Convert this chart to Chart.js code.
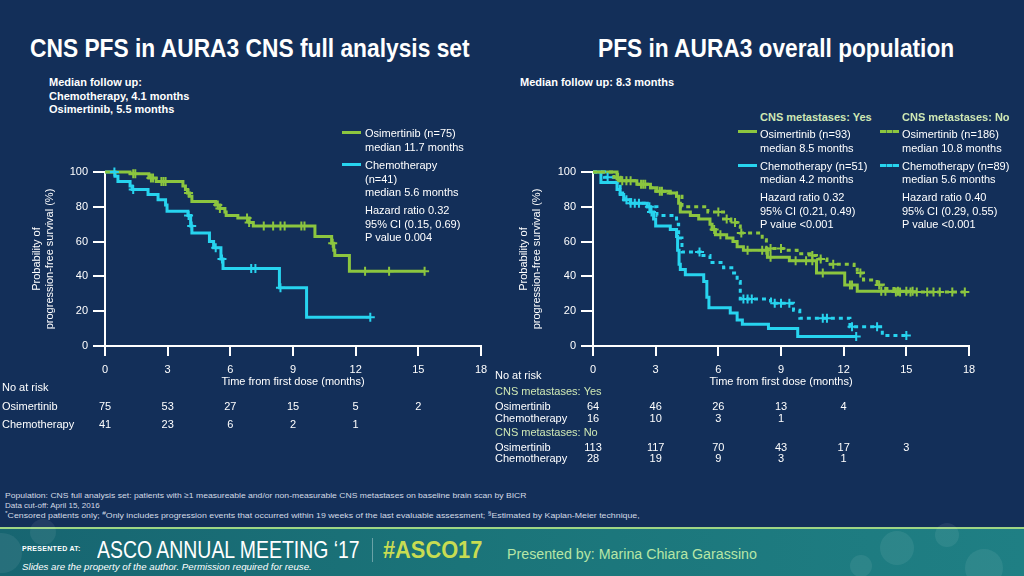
<!DOCTYPE html>
<html>
<head>
<meta charset="utf-8">
<script src="https://cdn.jsdelivr.net/npm/chart.js@4.4.1/dist/chart.umd.min.js"></script>
<style>
  body { margin:0; width:1024px; height:576px; overflow:hidden; background:#132f59; position:relative;
         font-family:"Liberation Sans", Arial, sans-serif; color:#fff; }
  .t { position:absolute; white-space:nowrap; font-size:11px; line-height:14px; transform-origin:left center; }
  .b { font-weight:bold; }
  .pale { color:#cfe8b4; }
  .ttl { position:absolute; white-space:nowrap; font-size:25px; font-weight:bold; line-height:28px; transform-origin:left center; }
  .sw { position:absolute; height:3px; width:19px; }
  .dash { height:0; border-top:3px dashed; width:19px; }
  canvas { position:absolute; }
  #foot { position:absolute; left:0; top:527px; width:1024px; height:49px;
          background:linear-gradient(90deg,#176571 0%,#1b7479 45%,#1f7f84 100%); border-top:2px solid #9fd684; }
  .bub { position:absolute; border-radius:50%; background:rgba(255,255,255,0.07); }
  .fn { position:absolute; left:5px; white-space:nowrap; font-size:8px; line-height:10px; color:#d4dbe6; transform-origin:left center; }
  .fn sup { font-size:6px; vertical-align:3px; line-height:0; }
</style>
</head>
<body>
<div class="ttl" id="title1" style="left:30px;top:34px">CNS PFS in AURA3 CNS full analysis set</div>
<div class="ttl" id="title2" style="left:598px;top:34px">PFS in AURA3 overall population</div>

<div class="t b" style="left:49px;top:75px">Median follow up:</div>
<div class="t b" style="left:49px;top:89px">Chemotherapy, 4.1 months</div>
<div class="t b" style="left:49px;top:102px">Osimertinib, 5.5 months</div>
<div class="t b" style="left:520px;top:75px">Median follow up: 8.3 months</div>

<canvas id="cLeft" width="500" height="293" style="left:0;top:150px"></canvas>
<canvas id="cRight" width="534" height="320" style="left:490px;top:150px"></canvas>

<div id="legends"></div>

<div class="fn" id="fn1" style="top:491px">Population: CNS full analysis set: patients with ≥1 measureable and/or non-measurable CNS metastases on baseline brain scan by BICR</div>
<div class="fn" style="top:501px">Data cut-off: April 15, 2016</div>
<div class="fn" id="fn3" style="top:511px"><sup>*</sup>Censored patients only; <sup>#</sup>Only includes progression events that occurred within 19 weeks of the last evaluable assessment; <sup>§</sup>Estimated by Kaplan-Meier technique,</div>

<div id="foot">
  <div class="bub" style="left:-18px;top:4px;width:40px;height:40px"></div>
  <div class="bub" style="left:30px;top:-10px;width:26px;height:26px"></div>
  <div class="bub" style="left:880px;top:2px;width:34px;height:34px"></div>
  <div class="bub" style="left:935px;top:-6px;width:24px;height:24px"></div>
  <div class="bub" style="left:965px;top:20px;width:38px;height:38px"></div>
  <div class="bub" style="left:850px;top:26px;width:22px;height:22px"></div>
  <div style="position:absolute;left:22px;top:16px;font-size:7px;font-weight:bold;letter-spacing:0.3px;white-space:nowrap">PRESENTED AT:</div>
  <div id="asco" style="position:absolute;left:97px;top:7px;font-size:24px;line-height:28px;white-space:nowrap;transform-origin:left center">ASCO ANNUAL MEETING ‘17</div>
  <div style="position:absolute;left:372px;top:9px;width:1px;height:24px;background:rgba(255,255,255,0.35)"></div>
  <div id="hash" style="position:absolute;left:383px;top:7px;font-size:24px;line-height:28px;font-weight:bold;color:#c8dc52;white-space:nowrap;transform-origin:left center">#ASCO17</div>
  <div id="pres" style="position:absolute;left:507px;top:17px;font-size:14px;line-height:16px;color:#b7e6a6;white-space:nowrap;transform-origin:left center">Presented by: Marina Chiara Garassino</div>
  <div id="slides" style="position:absolute;left:22px;top:33px;font-size:9px;font-style:italic;white-space:nowrap;transform-origin:left center">Slides are the property of the author. Permission required for reuse.</div>
</div>

<script>
const F = '"Liberation Sans", Arial, sans-serif';
const GREEN = '#8cc63f';
const CYAN = '#27d4ef';

// x axis / at-risk months
const monthTicks = [0, 3, 6, 9, 12, 15, 18];
const riskMonths = [0, 3, 6, 9, 12, 15];

// ---- left chart: CNS PFS, CNS full analysis set ----
const osiT = [0, 1.2, 2.1, 2.45, 3.73, 3.85, 3.95, 4.05, 4.16, 5.3, 5.5, 5.74, 5.8, 6.36, 6.9, 7.1, 10.05, 10.85, 10.95, 11.0, 11.7, 15.3];
const osiS = [100, 99, 96.5, 94.5, 92, 90, 88, 86, 83, 81, 79, 77, 75, 73.5, 71, 69, 63, 59, 55, 52, 43, 43];
const osiCens = [1.35, 1.45, 2.2, 2.3, 2.7, 2.8, 2.9, 4.0, 5.4, 5.5, 6.8, 6.9, 7.6, 8.05, 8.4, 8.6, 9.4, 9.55, 10.9, 12.45, 13.6, 15.3];

const chemoT = [0, 0.48, 0.62, 1.2, 1.3, 2.06, 2.54, 2.9, 2.97, 3.97, 4.1, 4.16, 5.0, 5.2, 5.55, 5.65, 8.35, 9.65, 12.7];
const chemoS = [100, 97.5, 94.5, 92, 90, 87, 84, 81, 77.5, 75, 69, 65, 60, 56.5, 50, 44.5, 33.5, 16.5, 16.5];
const chemoCens = [0.45, 1.35, 4.0, 4.15, 5.3, 5.6, 7.0, 7.2, 8.4, 12.7];

const leftRiskOsi = [75, 53, 27, 15, 5, 2];
const leftRiskChemo = [41, 23, 6, 2, 1];

// ---- right chart: PFS overall population ----
const osiYesT = [0, 1.15, 1.3, 2.1, 2.75, 3.06, 3.7, 4.0, 4.1, 4.18, 4.66, 5.06, 5.6, 5.7, 5.86, 6.4, 6.7, 6.9, 7.2, 8.35, 9.4, 10.7, 12.05, 12.65, 15.3];
const osiYesS = [100, 96, 95, 93, 91, 89, 88, 86, 82, 77, 75, 73, 70, 67, 64, 62, 60, 57, 55, 51, 49, 42, 35, 31.5, 31.5];
const osiYesCens = [1.4, 1.6, 2.3, 2.5, 3.3, 5.8, 6.1, 7.4, 8.1, 8.3, 8.5, 9.7, 10.2, 10.5, 11.0, 12.3, 12.4, 13.8, 14.0, 14.6, 15.0, 15.3];

const osiNoT = [0, 1.0, 1.3, 2.0, 2.6, 3.0, 3.6, 4.0, 4.26, 5.5, 6.25, 6.6, 6.9, 7.05, 8.1, 8.3, 9.1, 9.77, 10.4, 10.7, 11.2, 12.5, 12.65, 12.95, 13.6, 13.9, 14.4, 17.8];
const osiNoS = [100, 97, 95, 93, 91, 89, 88, 86, 80, 77, 73, 71, 69, 65, 61, 56, 55, 53, 52, 50, 47, 45, 42, 38, 35, 33, 31, 31];
const osiNoCens = [1.2, 1.8, 2.4, 3.2, 6.0, 6.4, 6.8, 7.1, 8.5, 9.0, 10.5, 10.9, 11.5, 12.8, 13.7, 14.5, 14.7, 15.2, 15.5, 16.0, 16.3, 16.6, 17.2, 17.8];

const chemoYesT = [0, 0.38, 1.15, 1.3, 1.47, 1.8, 2.6, 2.75, 2.9, 3.0, 3.7, 4.0, 4.05, 4.12, 4.18, 4.42, 5.3, 5.45, 5.55, 6.57, 6.9, 7.15, 8.4, 9.8, 12.6];
const chemoYesS = [100, 94, 90, 87, 84, 82, 80, 77, 73, 69, 67, 63, 55, 47, 44, 41, 37, 28, 22, 19, 15, 12.5, 10, 5.5, 5.5];
const chemoYesCens = [1.6, 1.8, 2.0, 2.2, 2.8, 12.6];

const chemoNoT = [0, 0.55, 1.1, 1.3, 1.5, 1.8, 2.6, 3.06, 4.0, 4.1, 4.26, 5.14, 5.6, 6.25, 6.73, 6.9, 7.05, 8.5, 9.6, 9.9, 12.3, 13.85, 15.0];
const chemoNoS = [100, 97, 94, 88, 84, 82, 80, 75, 70, 62, 54, 52, 48, 45, 42, 37, 27, 24.5, 20.5, 16, 11, 6, 6];
const chemoNoCens = [0.7, 2.7, 5.1, 7.2, 7.4, 7.6, 8.7, 9.0, 9.4, 11.0, 11.2, 12.4, 13.6, 15.0];

const rightRiskOsiYes = [64, 46, 26, 13, 4];
const rightRiskChemoYes = [16, 10, 3, 1];
const rightRiskOsiNo = [113, 117, 70, 43, 17, 3];
const rightRiskChemoNo = [28, 19, 9, 3, 1];

// legend texts
const leftLegend = [
  ['Osimertinib (n=75)', 'median 11.7 months'],
  ['Chemotherapy', '(n=41)', 'median 5.6 months'],
  ['Hazard ratio 0.32', '95% CI (0.15, 0.69)', 'P value 0.004']
];
const rightLegendYes = [
  ['Osimertinib (n=93)', 'median 8.5 months'],
  ['Chemotherapy (n=51)', 'median 4.2 months'],
  ['Hazard ratio 0.32', '95% CI (0.21, 0.49)', 'P value <0.001']
];
const rightLegendNo = [
  ['Osimertinib (n=186)', 'median 10.8 months'],
  ['Chemotherapy (n=89)', 'median 5.6 months'],
  ['Hazard ratio 0.40', '95% CI (0.29, 0.55)', 'P value <0.001']
];

// at-risk tables, keyed by canvas id (kept out of chart options on purpose)
const riskTables = {
  cLeft: { labelX: 2, rows: [
    { label: 'No at risk', y: 238 },
    { label: 'Osimertinib', y: 257, values: leftRiskOsi },
    { label: 'Chemotherapy', y: 275, values: leftRiskChemo }
  ] },
  cRight: { labelX: 5, rows: [
    { label: 'No at risk', y: 226 },
    { label: 'CNS metastases: Yes', y: 242, color: '#cfe8b4' },
    { label: 'Osimertinib', y: 257, values: rightRiskOsiYes },
    { label: 'Chemotherapy', y: 269, values: rightRiskChemoYes },
    { label: 'CNS metastases: No', y: 283, color: '#cfe8b4' },
    { label: 'Osimertinib', y: 298, values: rightRiskOsiNo },
    { label: 'Chemotherapy', y: 309, values: rightRiskChemoNo }
  ] }
};

Chart.defaults.font.family = F;
Chart.defaults.color = '#fff';

function pts(T, S) { return T.map((t, i) => ({ x: t, y: S[i] })); }
function survAt(T, S, t) { let v = S[0]; T.forEach((x, i) => { if (x <= t) v = S[i]; }); return v; }
function censPts(T, S, C) { return C.map(t => ({ x: t, y: survAt(T, S, t) })); }

function stepSet(T, S, color, dash) {
  return { type: 'line', data: pts(T, S), borderColor: color, borderWidth: 3, stepped: 'before',
           pointRadius: 0, borderDash: dash || [], fill: false, clip: false, order: 2 };
}
function censSet(T, S, C, color) {
  return { type: 'scatter', data: censPts(T, S, C), pointStyle: 'cross', pointRadius: 4.5,
           borderColor: color, backgroundColor: color, borderWidth: 2, clip: false, order: 1 };
}

const riskPlugin = {
  id: 'riskTable',
  afterDraw(chart) {
    const tbl = riskTables[chart.canvas.id];
    if (!tbl) return;
    const ctx = chart.ctx, xs = chart.scales.x;
    ctx.save();
    ctx.font = '11px ' + F;
    ctx.textBaseline = 'middle';
    tbl.rows.forEach(r => {
      ctx.fillStyle = r.color || '#fff';
      ctx.textAlign = 'left';
      ctx.fillText(r.label, tbl.labelX, r.y);
      (r.values || []).forEach((v, i) => {
        ctx.textAlign = 'center';
        ctx.fillText(String(v), xs.getPixelForValue(riskMonths[i]), r.y);
      });
    });
    ctx.restore();
  }
};

function axes(yWidth) {
  const tickFont = { size: 11, family: F };
  return {
    x: {
      type: 'linear', min: 0, max: 18,
      afterBuildTicks: s => { s.ticks = monthTicks.map(v => ({ value: v })); },
      ticks: { color: '#fff', font: tickFont, padding: 7, maxRotation: 0, autoSkip: false },
      grid: { display: true, drawOnChartArea: false, drawTicks: true, tickLength: 10, color: '#fff', lineWidth: 2 },
      border: { display: true, color: '#fff', width: 2 },
      title: { display: true, text: 'Time from first dose (months)', color: '#fff', font: tickFont, padding: 0 },
      afterFit: s => { s.height = 43; }
    },
    y: {
      min: 0, max: 100,
      ticks: { stepSize: 20, color: '#fff', font: tickFont, padding: 5 },
      grid: { display: true, drawOnChartArea: false, drawTicks: true, tickLength: 12, color: '#fff', lineWidth: 2 },
      border: { display: true, color: '#fff', width: 2 },
      title: { display: true, text: ['Probability of', 'progression-free survival (%)'], color: '#fff', font: tickFont, padding: 0 },
      afterFit: s => { s.width = yWidth; }
    }
  };
}

function baseOptions(pad, yWidth) {
  return {
    responsive: false, animation: false,
    layout: { padding: pad },
    scales: axes(yWidth),
    plugins: { legend: { display: false }, tooltip: { enabled: false } }
  };
}

new Chart(document.getElementById('cLeft'), {
  type: 'line',
  data: { datasets: [
    stepSet(osiT, osiS, GREEN), censSet(osiT, osiS, osiCens, GREEN),
    stepSet(chemoT, chemoS, CYAN), censSet(chemoT, chemoS, chemoCens, CYAN)
  ] },
  options: baseOptions({ left: 30, top: 22, right: 19, bottom: 54 }, 75),
  plugins: [riskPlugin]
});

new Chart(document.getElementById('cRight'), {
  type: 'line',
  data: { datasets: [
    stepSet(osiNoT, osiNoS, GREEN, [4, 4]), censSet(osiNoT, osiNoS, osiNoCens, GREEN),
    stepSet(chemoNoT, chemoNoS, CYAN, [4, 4]), censSet(chemoNoT, chemoNoS, chemoNoCens, CYAN),
    stepSet(osiYesT, osiYesS, GREEN), censSet(osiYesT, osiYesS, osiYesCens, GREEN),
    stepSet(chemoYesT, chemoYesS, CYAN), censSet(chemoYesT, chemoYesS, chemoYesCens, CYAN)
  ] },
  options: baseOptions({ left: 27, top: 22, right: 55, bottom: 81 }, 76),
  plugins: [riskPlugin]
});

// ---- legends (HTML text) ----
const leg = document.getElementById('legends');
function addText(txt, x, cy, cls) {
  const d = document.createElement('div');
  d.className = 't ' + (cls || '');
  d.style.left = x + 'px'; d.style.top = (cy - 7) + 'px';
  d.textContent = txt;
  leg.appendChild(d);
}
function addSwatch(x, cy, color, dashed) {
  const d = document.createElement('div');
  d.className = 'sw' + (dashed ? ' dash' : '');
  d.style.left = x + 'px'; d.style.top = (cy - 1) + 'px';
  if (dashed) d.style.borderTopColor = color; else d.style.background = color;
  leg.appendChild(d);
}
function addBlock(lines, x, cy, step) { lines.forEach((l, i) => addText(l, x, cy + i * step)); }

addSwatch(342, 132, GREEN); addSwatch(342, 164, CYAN);
addBlock(leftLegend[0], 365, 133, 14);
addBlock(leftLegend[1], 365, 165, 13.5);
addBlock(leftLegend[2], 365, 210, 13.5);

addText('CNS metastases: Yes', 760, 117, 'b pale');
addText('CNS metastases: No', 902, 117, 'b pale');
addSwatch(738, 131, GREEN); addSwatch(738, 165, CYAN);
addSwatch(880, 131, GREEN, true); addSwatch(880, 165, CYAN, true);
addBlock(rightLegendYes[0], 760, 134, 14);
addBlock(rightLegendYes[1], 760, 166, 13);
addBlock(rightLegendYes[2], 760, 197, 13.5);
addBlock(rightLegendNo[0], 902, 134, 14);
addBlock(rightLegendNo[1], 902, 166, 13);
addBlock(rightLegendNo[2], 902, 197, 13.5);

// squeeze condensed texts to their widths
function fit(id, w) {
  const el = document.getElementById(id);
  el.style.transform = 'scaleX(' + (w / el.offsetWidth) + ')';
}
fit('title1', 440); fit('title2', 356);
fit('asco', 263); fit('hash', 99); fit('pres', 250); fit('slides', 290);
fit('fn1', 522); fit('fn3', 635);
</script>
</body>
</html>
